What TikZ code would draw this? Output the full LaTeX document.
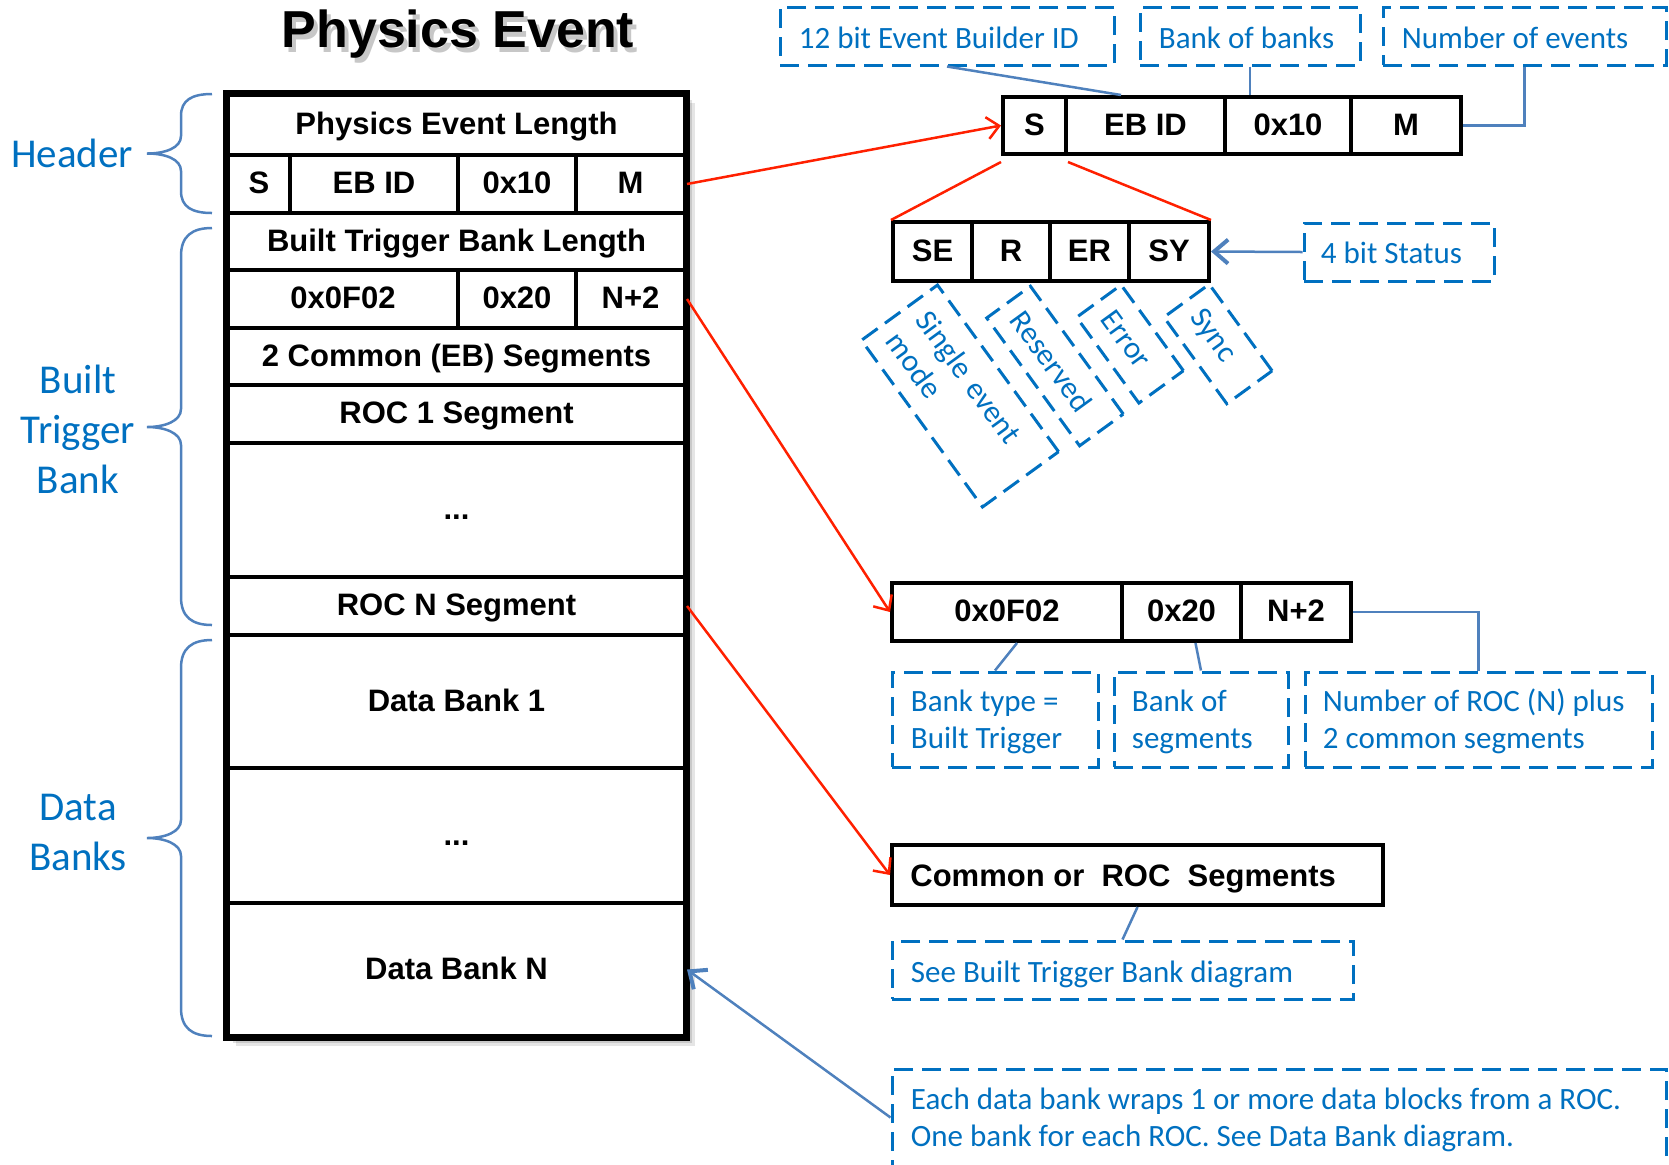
\documentclass[tikz,border=0pt]{standalone}
\usepackage{fontspec}
\setmainfont{Liberation Sans}
\newfontfamily\calfont{Carlito}
\usetikzlibrary{arrows.meta,fit,calc}
\definecolor{tblue}{RGB}{0,112,192}
\definecolor{lblue}{RGB}{79,129,189}
\definecolor{tred}{RGB}{255,32,0}
\newcommand\mkcell[4]{\node[cell, fit={#2 #3}] (#1) {}; \node[ctext] (#1t) at (#1.center) {#4};}
\begin{document}
\begin{tikzpicture}[x=0.5pt,y=-0.5pt,
  ctext/.style={font=\fontsize{15.5}{18}\selectfont\bfseries, inner sep=0pt, text height=11.1pt, text depth=1.5pt},
  cell/.style={draw=black, line width=2pt, fill=white, inner sep=0pt},
  dbox/.style={draw=tblue, line width=1.5pt, dash pattern=on 9.5pt off 4.5pt, inner sep=0pt},
  btext/.style={text=tblue, font=\calfont\fontsize{15.5}{18.5}\selectfont, align=left, inner sep=0pt},
  conn/.style={draw=lblue, line width=1.25pt},
  rline/.style={draw=tred, line width=1.25pt},
  rarrow/.style={rline, -{Straight Barb[length=6pt,width=11pt]}},
  barrow/.style={conn, -{Straight Barb[length=7pt,width=12pt,line width=2pt]}},
  brace/.style={draw=lblue, line width=1.25pt},
  lbl/.style={text=tblue, font=\calfont\fontsize{20.5}{25}\selectfont, align=center, inner sep=0pt},
  ttl/.style={font=\fontsize{26}{30}\selectfont\bfseries, anchor=base, inner sep=0pt},
]
\useasboundingbox (0,0) rectangle (1669,1164);
\clip (0,0) rectangle (1669,1164);

% title with soft shadow
\node[ttl, text=black, opacity=0.22] (tsh) at (462,52) {Physics Event};
\node[ttl] (title) at (458,47) {Physics Event};

% shadow of main box
\fill[black, opacity=0.10] (236,103) rectangle (695,1046);
\fill[black, opacity=0.12] (233,100) rectangle (692,1043);
\fill[black, opacity=0.15] (231,98) rectangle (689,1040);

% main stack
\mkcell{pel}{(228,95)}{(685,155)}{Physics Event Length}
\mkcell{hS}{(228,155)}{(290,213)}{S}
\mkcell{hEB}{(290,155)}{(458,213)}{EB ID}
\mkcell{hX}{(458,155)}{(576,213)}{0x10}
\mkcell{hM}{(576,155)}{(685,213)}{M}
\mkcell{btl}{(228,213)}{(685,270)}{Built Trigger Bank Length}
\mkcell{tA}{(228,270)}{(458,328)}{0x0F02}
\mkcell{tB}{(458,270)}{(576,328)}{0x20}
\mkcell{tC}{(576,270)}{(685,328)}{N+2}
\mkcell{ceb}{(228,328)}{(685,385)}{2 Common (EB) Segments}
\mkcell{roc1}{(228,385)}{(685,443)}{ROC 1 Segment}
\mkcell{rocd}{(228,443)}{(685,577)}{...}
\mkcell{rocN}{(228,577)}{(685,635)}{ROC N Segment}
\mkcell{db1}{(228,635)}{(685,768)}{Data Bank 1}
\mkcell{dbd}{(228,768)}{(685,903)}{...}
\mkcell{dbN}{(228,903)}{(685,1036)}{Data Bank N}
\node[draw, line width=3pt, inner sep=0pt, fit=(pel)(dbN)] (frame) {};

% left labels and braces
\node[lbl] (lh) at (72,153) {Header};
\node[lbl] (lbt) at (78,429) {Built\\Trigger\\Bank};
\node[lbl] (ldb) at (78,832) {Data\\Banks};
\draw[brace] (212,94) .. controls (192,94) and (181,100) .. (181,116) -- (181,136) .. controls (181,148) and (165,153.5) .. (147,153.5) .. controls (165,153.5) and (181,159) .. (181,171) -- (181,191) .. controls (181,207) and (192,213) .. (212,213);
\draw[brace] (212,228) .. controls (192,228) and (181,236) .. (181,256) -- (181,409) .. controls (181,421) and (165,427) .. (147,427) .. controls (165,427) and (181,433) .. (181,445) -- (181,597) .. controls (181,617) and (192,625) .. (212,625);
\draw[brace] (212,640) .. controls (192,640) and (181,648) .. (181,668) -- (181,820) .. controls (181,832) and (165,838) .. (147,838) .. controls (165,838) and (181,844) .. (181,856) -- (181,1008) .. controls (181,1028) and (192,1036) .. (212,1036);

% top right register
\mkcell{rS}{(1003,97)}{(1066,154)}{S}
\mkcell{rEB}{(1066,97)}{(1225,154)}{EB ID}
\mkcell{rX}{(1225,97)}{(1351,154)}{0x10}
\mkcell{rM}{(1351,97)}{(1461,154)}{M}

% status bits
\mkcell{sSE}{(893,222)}{(972,281)}{SE}
\mkcell{sR}{(972,222)}{(1050,281)}{R}
\mkcell{sER}{(1050,222)}{(1129,281)}{ER}
\mkcell{sSY}{(1129,222)}{(1209,281)}{SY}

% built trigger bank header detail
\mkcell{bA}{(892,583)}{(1122,641)}{0x0F02}
\mkcell{bB}{(1122,583)}{(1241,641)}{0x20}
\mkcell{bC}{(1241,583)}{(1351,641)}{N+2}

% segments box
\node[cell, fit={(892,845)(1383,905)}] (com) {};
\node[ctext, anchor=west] (comt) at ([xshift=10pt,yshift=-1pt]com.west) {Common or\ \ ROC\ \ Segments};

% blue dashed annotation boxes
\node[dbox, fit={(780,7)(1114,65)}] (b12) {};
\node[btext, anchor=base west] (b12t) at ([xshift=10pt,yshift=-6pt]b12.west) {12 bit Event Builder ID};
\node[dbox, fit={(1140,7)(1360,65)}] (bbk) {};
\node[btext, anchor=base west] (bbkt) at ([xshift=10pt,yshift=-6pt]bbk.west) {Bank of banks};
\node[dbox, fit={(1383,7)(1666,65)}] (bnev) {};
\node[btext, anchor=base west] (bnevt) at ([xshift=10pt,yshift=-6pt]bnev.west) {Number of events};
\node[dbox, fit={(1304,223)(1494,281)}] (b4) {};
\node[btext, anchor=base west] (b4t) at ([xshift=9pt,yshift=-5.5pt]b4.west) {4 bit Status};

\node[dbox, fit={(892,672)(1098,767)}] (btype) {};
\node[btext, anchor=west] (btypet) at ([xshift=10pt,yshift=-1pt]btype.west) {Bank type =\\Built Trigger};
\node[dbox, fit={(1114,672)(1288,767)}] (bseg) {};
\node[btext, anchor=west] (bsegt) at ([xshift=9.5pt,yshift=-1pt]bseg.west) {Bank of\\segments};
\node[dbox, fit={(1305,672)(1652,767)}] (broc) {};
\node[btext, anchor=west] (broct) at ([xshift=9.5pt,yshift=-1pt]broc.west) {Number of ROC (N) plus\\2 common segments};

\node[dbox, fit={(892,941)(1353,999)}] (bsee) {};
\node[btext, anchor=base west] (bseet) at ([xshift=10pt,yshift=-6pt]bsee.west) {See Built Trigger Bank diagram};
\node[dbox, fit={(892,1069)(1666,1166)}] (beach) {};
\node[btext, anchor=west] (beacht) at ([xshift=10pt,yshift=-1pt]beach.west) {Each data bank wraps 1 or more data blocks from a ROC.\\One bank for each ROC. See Data Bank diagram.};

% rotated status descriptions
\node[dbox, btext, rotate=-54, minimum width=103pt, minimum height=47pt, text width=88pt] (nSE) at (960,396) {Single event\\mode};
\node[dbox, btext, rotate=-54, minimum width=79pt, minimum height=27pt, text width=64pt] (nR) at (1055,366) {Reserved};
\node[dbox, btext, rotate=-54, minimum width=53pt, minimum height=27.5pt, text width=38pt] (nER) at (1130,344) {Error};
\node[dbox, btext, rotate=-54, minimum width=53.5pt, minimum height=28pt, text width=38.5pt] (nSY) at (1218,344) {Sync};

% red connectors
\draw[rarrow] (hM.east) -- (rS.west);
\draw[rline] ([yshift=-3pt]rS.south west) -- (sSE.north west);
\draw[rline] ([yshift=-3pt]rS.south east) -- (sSY.north east);
\draw[rarrow] (tC.east) -- (bA.west);
\draw[rarrow] (rocN.east) -- (com.west);

% blue connectors
\draw[conn] (b12.south) -- ($(rEB.north west)!0.35!(rEB.north east)$);
\draw[conn] (bbk.south) -- (bbk.south |- rX.north);
\draw[conn] (bnev.south) |- (rM.east);
\draw[barrow] (b4.west) -- (sSY.east);
\draw[conn] ($(bA.south)+(10,0)$) -- (btype.north);
\draw[conn] ($(bB.south)+(14,0)$) -- (bseg.north);
\draw[conn] (bC.east) -| (broc.north);
\draw[conn] (com.south) -- (bsee.north);
\draw[barrow] (beach.west) -- (dbN.east);
\end{tikzpicture}
\end{document}
